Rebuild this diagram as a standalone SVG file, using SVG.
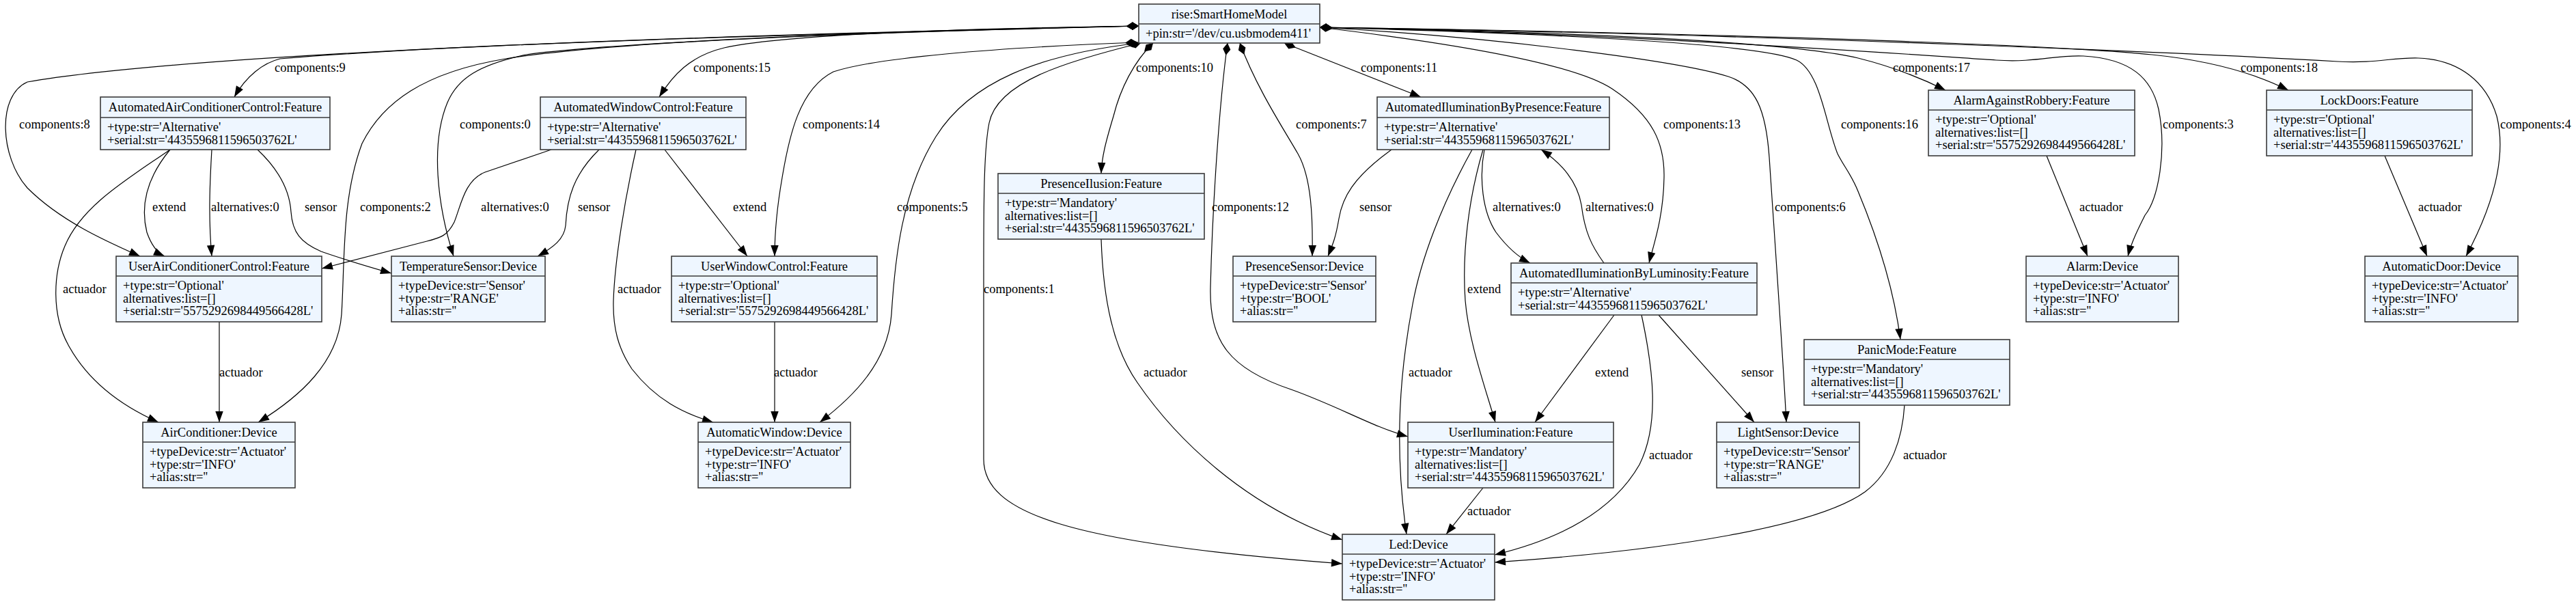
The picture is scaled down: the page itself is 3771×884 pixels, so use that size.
<svg xmlns="http://www.w3.org/2000/svg" width="3771" height="884" viewBox="0 0 3771 884">
<style>
text{font-family:"Liberation Serif","Times New Roman",serif;font-size:18.5px;fill:#000}
.t{text-anchor:middle}
.box{fill:#eef6ff;stroke:#3a3a3a;stroke-width:1.6}
.div{stroke:#3a3a3a;stroke-width:1.6}
.e{fill:none;stroke:#000;stroke-width:1.2}
.c{marker-start:url(#dia);marker-end:url(#arr)}
.a{marker-end:url(#arr)}
</style>
<defs>
<marker id="arr" markerUnits="userSpaceOnUse" markerWidth="16" markerHeight="12" refX="14" refY="5" orient="auto" viewBox="0 0 14 10" overflow="visible"><path d="M0,0 L14,5 L0,10 z" fill="#000"/></marker>
<marker id="dia" markerUnits="userSpaceOnUse" markerWidth="18" markerHeight="12" refX="0" refY="5" orient="auto" viewBox="0 0 16 10" overflow="visible"><path d="M0,5 L8,0 L16,5 L8,10 z" fill="#000"/></marker>
</defs>
<rect width="3771" height="884" fill="#fff"/>
<g id="connectors">
<path class="e c" d="M1667,38 C1200,50 700,62 410,86 C385,92 360,112 343,142"/>
<path class="e c" d="M1667,38 C1100,50 300,75 40,120 C-5,140 0,230 40,275 C90,325 160,355 205,375"/>
<path class="e c" d="M1667,38 C1300,45 900,60 740,86 C620,106 560,150 530,210 C500,290 505,380 500,460 C495,530 440,580 378,618"/>
<path class="e c" d="M1667,38 C1300,46 900,62 770,80 C700,95 670,115 655,150 C630,210 640,300 664,375"/>
<path class="e c" d="M1667,38 C1400,42 1150,50 1060,70 C1010,82 985,110 965,142"/>
<path class="e c" d="M1665,62 C1450,70 1280,85 1220,105 C1170,130 1155,200 1145,260 C1138,300 1134,340 1134,375"/>
<path class="e c" d="M1667,63 C1520,80 1420,120 1370,200 C1320,280 1310,380 1305,460 C1300,530 1250,580 1200,618"/>
<path class="e c" d="M1670,63 C1560,90 1460,120 1448,180 C1440,220 1440,300 1440,400 L1440,672 C1440,750 1560,795 1965,825"/>
<path class="e c" d="M1688,63 C1660,90 1640,130 1630,170 C1618,210 1613,230 1612,254"/>
<path class="e c" d="M1797,63 C1785,150 1775,300 1772,420 C1770,500 1800,540 1890,570 C1960,595 2010,625 2061,639"/>
<path class="e c" d="M1815,63 C1840,130 1880,190 1900,225 C1920,260 1922,320 1921,375"/>
<path class="e c" d="M1880,63 L2080,142"/>
<path class="e c" d="M1932,40 C2100,60 2300,90 2360,130 C2420,170 2437,210 2436,260 C2435,320 2420,360 2414,385"/>
<path class="e c" d="M1932,40 C2200,55 2460,90 2530,112 C2570,125 2585,160 2590,230 C2600,380 2610,520 2615,618"/>
<path class="e c" d="M1932,40 C2300,50 2580,65 2630,88 C2665,105 2672,180 2690,225 C2700,245 2710,255 2720,280 C2745,340 2772,420 2782,497"/>
<path class="e c" d="M1932,40 C2350,48 2620,62 2720,85 C2780,100 2820,118 2848,132"/>
<path class="e c" d="M1932,40 C2400,50 2800,80 2922,88 C2980,92 3010,80 3050,82 C3120,86 3150,115 3160,160 C3172,220 3160,290 3140,315 C3130,335 3120,355 3115,375"/>
<path class="e c" d="M1932,40 C2500,48 3000,65 3150,80 C3250,90 3310,112 3350,132"/>
<path class="e c" d="M1932,40 C2600,50 3250,80 3422,90 C3480,93 3500,84 3540,85 C3600,87 3640,120 3655,170 C3670,230 3650,300 3610,375"/>
<path class="e a" d="M249,219 C215,260 205,300 215,340 C222,360 230,370 241,375"/>
<path class="e a" d="M310,219 C307,270 305,320 310,375"/>
<path class="e a" d="M377,219 C410,250 424,280 426,310 C428,340 440,355 470,368 C510,382 545,392 573,400"/>
<path class="e a" d="M249,219 C190,260 120,300 95,360 C78,400 75,460 100,505 C130,560 180,595 232,618"/>
<path class="e a" d="M321,471 L321,618"/>
<path class="e a" d="M807,219 L710,252 C680,264 675,300 665,325 C655,345 645,348 625,353 L471,393"/>
<path class="e a" d="M877,219 C840,255 830,290 828,330 C826,350 810,362 787,375"/>
<path class="e a" d="M931,219 C915,290 900,380 898,440 C897,480 905,510 925,540 C960,585 1000,605 1044,618"/>
<path class="e a" d="M973,219 L1094,375"/>
<path class="e a" d="M1134,471 L1134,618"/>
<path class="e a" d="M1612,350 C1615,440 1630,510 1665,560 C1720,640 1820,740 1965,790"/>
<path class="e a" d="M2037,219 C1980,260 1965,290 1960,320 C1955,350 1950,360 1944,375"/>
<path class="e a" d="M2155,219 C2110,300 2080,380 2068,445 C2050,540 2040,650 2059,782"/>
<path class="e a" d="M2171,219 C2150,290 2140,370 2145,440 C2150,500 2175,570 2189,618"/>
<path class="e a" d="M2173,219 C2165,260 2170,310 2190,340 C2205,360 2220,375 2240,385"/>
<path class="e a" d="M2348,385 C2330,360 2320,340 2315,300 C2308,260 2280,235 2256,219"/>
<path class="e a" d="M2363,461 L2247,618"/>
<path class="e a" d="M2403,461 C2420,540 2430,620 2400,680 C2360,750 2280,790 2188,812"/>
<path class="e a" d="M2428,461 L2568,618"/>
<path class="e a" d="M2171,714 L2117,782"/>
<path class="e a" d="M2996,228 L3056,375"/>
<path class="e a" d="M3491,228 L3553,375"/>
<path class="e a" d="M2788,593 C2785,640 2770,690 2730,720 C2660,770 2450,805 2188,823"/>
<text x="402" y="105">components:9</text>
<text x="28" y="188">components:8</text>
<text x="223" y="309">extend</text>
<text x="309" y="309">alternatives:0</text>
<text x="446" y="309">sensor</text>
<text x="527" y="309">components:2</text>
<text x="92" y="429">actuador</text>
<text x="673" y="188">components:0</text>
<text x="1015" y="105">components:15</text>
<text x="704" y="309">alternatives:0</text>
<text x="846" y="309">sensor</text>
<text x="1073" y="309">extend</text>
<text x="904" y="429">actuador</text>
<text x="1175" y="188">components:14</text>
<text x="1663" y="105">components:10</text>
<text x="1313" y="309">components:5</text>
<text x="1774" y="309">components:12</text>
<text x="1440" y="429">components:1</text>
<text x="1992" y="105">components:11</text>
<text x="1897" y="188">components:7</text>
<text x="1990" y="309">sensor</text>
<text x="2185" y="309">alternatives:0</text>
<text x="2321" y="309">alternatives:0</text>
<text x="2148" y="429">extend</text>
<text x="2435" y="188">components:13</text>
<text x="2771" y="105">components:17</text>
<text x="2695" y="188">components:16</text>
<text x="2598" y="309">components:6</text>
<text x="3044" y="309">actuador</text>
<text x="3280" y="105">components:18</text>
<text x="3166" y="188">components:3</text>
<text x="3660" y="188">components:4</text>
<text x="3540" y="309">actuador</text>
<text x="321" y="551">actuador</text>
<text x="1133" y="551">actuador</text>
<text x="1674" y="551">actuador</text>
<text x="2062" y="551">actuador</text>
<text x="2335" y="551">extend</text>
<text x="2414" y="672">actuador</text>
<text x="2148" y="754">actuador</text>
<text x="2549" y="551">sensor</text>
<text x="2786" y="672">actuador</text>
</g>
<g id="SmartHomeModel"><rect class="box" x="1667" y="6" width="265" height="57"/><line class="div" x1="1667" y1="35" x2="1932" y2="35"/><text class="t" x="1799.5" y="27">rise:SmartHomeModel</text><text x="1677" y="55">+pin:str='/dev/cu.usbmodem411'</text></g>
<g id="AutomatedAirConditionerControl"><rect class="box" x="147" y="142" width="336" height="77"/><line class="div" x1="147" y1="172" x2="483" y2="172"/><text class="t" x="315" y="163">AutomatedAirConditionerControl:Feature</text><text x="157" y="192">+type:str='Alternative'</text><text x="157" y="210.7">+serial:str='4435596811596503762L'</text></g>
<g id="AutomatedWindowControl"><rect class="box" x="791" y="142" width="301" height="77"/><line class="div" x1="791" y1="172" x2="1092" y2="172"/><text class="t" x="941.5" y="163">AutomatedWindowControl:Feature</text><text x="801" y="192">+type:str='Alternative'</text><text x="801" y="210.7">+serial:str='4435596811596503762L'</text></g>
<g id="AutomatedIluminationByPresence"><rect class="box" x="2016" y="142" width="340" height="77"/><line class="div" x1="2016" y1="172" x2="2356" y2="172"/><text class="t" x="2186" y="163">AutomatedIluminationByPresence:Feature</text><text x="2026" y="192">+type:str='Alternative'</text><text x="2026" y="210.7">+serial:str='4435596811596503762L'</text></g>
<g id="AutomatedIluminationByLuminosity"><rect class="box" x="2212" y="385" width="360" height="76"/><line class="div" x1="2212" y1="414" x2="2572" y2="414"/><text class="t" x="2392" y="406">AutomatedIluminationByLuminosity:Feature</text><text x="2222" y="434">+type:str='Alternative'</text><text x="2222" y="452.7">+serial:str='4435596811596503762L'</text></g>
<g id="UserAirConditionerControl"><rect class="box" x="170" y="375" width="301" height="96"/><line class="div" x1="170" y1="404" x2="471" y2="404"/><text class="t" x="320.5" y="396">UserAirConditionerControl:Feature</text><text x="180" y="424">+type:str='Optional'</text><text x="180" y="442.7">alternatives:list=[]</text><text x="180" y="461.3">+serial:str='5575292698449566428L'</text></g>
<g id="TemperatureSensor"><rect class="box" x="573" y="375" width="225" height="96"/><line class="div" x1="573" y1="404" x2="798" y2="404"/><text class="t" x="685.5" y="396">TemperatureSensor:Device</text><text x="583" y="424">+typeDevice:str='Sensor'</text><text x="583" y="442.7">+type:str='RANGE'</text><text x="583" y="461.3">+alias:str=''</text></g>
<g id="UserWindowControl"><rect class="box" x="983" y="375" width="301" height="96"/><line class="div" x1="983" y1="404" x2="1284" y2="404"/><text class="t" x="1133.5" y="396">UserWindowControl:Feature</text><text x="993" y="424">+type:str='Optional'</text><text x="993" y="442.7">alternatives:list=[]</text><text x="993" y="461.3">+serial:str='5575292698449566428L'</text></g>
<g id="PresenceIlusion"><rect class="box" x="1461" y="254" width="302" height="96"/><line class="div" x1="1461" y1="283" x2="1763" y2="283"/><text class="t" x="1612" y="275">PresenceIlusion:Feature</text><text x="1471" y="303">+type:str='Mandatory'</text><text x="1471" y="321.7">alternatives:list=[]</text><text x="1471" y="340.3">+serial:str='4435596811596503762L'</text></g>
<g id="PresenceSensor"><rect class="box" x="1805" y="375" width="209" height="96"/><line class="div" x1="1805" y1="404" x2="2014" y2="404"/><text class="t" x="1909.5" y="396">PresenceSensor:Device</text><text x="1815" y="424">+typeDevice:str='Sensor'</text><text x="1815" y="442.7">+type:str='BOOL'</text><text x="1815" y="461.3">+alias:str=''</text></g>
<g id="AlarmAgainstRobbery"><rect class="box" x="2823" y="132" width="302" height="96"/><line class="div" x1="2823" y1="161" x2="3125" y2="161"/><text class="t" x="2974" y="153">AlarmAgainstRobbery:Feature</text><text x="2833" y="181">+type:str='Optional'</text><text x="2833" y="199.7">alternatives:list=[]</text><text x="2833" y="218.3">+serial:str='5575292698449566428L'</text></g>
<g id="LockDoors"><rect class="box" x="3318" y="132" width="301" height="96"/><line class="div" x1="3318" y1="161" x2="3619" y2="161"/><text class="t" x="3468.5" y="153">LockDoors:Feature</text><text x="3328" y="181">+type:str='Optional'</text><text x="3328" y="199.7">alternatives:list=[]</text><text x="3328" y="218.3">+serial:str='4435596811596503762L'</text></g>
<g id="Alarm"><rect class="box" x="2966" y="375" width="223" height="96"/><line class="div" x1="2966" y1="404" x2="3189" y2="404"/><text class="t" x="3077.5" y="396">Alarm:Device</text><text x="2976" y="424">+typeDevice:str='Actuator'</text><text x="2976" y="442.7">+type:str='INFO'</text><text x="2976" y="461.3">+alias:str=''</text></g>
<g id="AutomaticDoor"><rect class="box" x="3462" y="375" width="224" height="96"/><line class="div" x1="3462" y1="404" x2="3686" y2="404"/><text class="t" x="3574" y="396">AutomaticDoor:Device</text><text x="3472" y="424">+typeDevice:str='Actuator'</text><text x="3472" y="442.7">+type:str='INFO'</text><text x="3472" y="461.3">+alias:str=''</text></g>
<g id="AirConditioner"><rect class="box" x="209" y="618" width="223" height="96"/><line class="div" x1="209" y1="647" x2="432" y2="647"/><text class="t" x="320.5" y="639">AirConditioner:Device</text><text x="219" y="667">+typeDevice:str='Actuator'</text><text x="219" y="685.7">+type:str='INFO'</text><text x="219" y="704.3">+alias:str=''</text></g>
<g id="AutomaticWindow"><rect class="box" x="1022" y="618" width="223" height="96"/><line class="div" x1="1022" y1="647" x2="1245" y2="647"/><text class="t" x="1133.5" y="639">AutomaticWindow:Device</text><text x="1032" y="667">+typeDevice:str='Actuator'</text><text x="1032" y="685.7">+type:str='INFO'</text><text x="1032" y="704.3">+alias:str=''</text></g>
<g id="UserIlumination"><rect class="box" x="2061" y="618" width="301" height="96"/><line class="div" x1="2061" y1="647" x2="2362" y2="647"/><text class="t" x="2211.5" y="639">UserIlumination:Feature</text><text x="2071" y="667">+type:str='Mandatory'</text><text x="2071" y="685.7">alternatives:list=[]</text><text x="2071" y="704.3">+serial:str='4435596811596503762L'</text></g>
<g id="LightSensor"><rect class="box" x="2513" y="618" width="209" height="96"/><line class="div" x1="2513" y1="647" x2="2722" y2="647"/><text class="t" x="2617.5" y="639">LightSensor:Device</text><text x="2523" y="667">+typeDevice:str='Sensor'</text><text x="2523" y="685.7">+type:str='RANGE'</text><text x="2523" y="704.3">+alias:str=''</text></g>
<g id="PanicMode"><rect class="box" x="2641" y="497" width="301" height="96"/><line class="div" x1="2641" y1="526" x2="2942" y2="526"/><text class="t" x="2791.5" y="518">PanicMode:Feature</text><text x="2651" y="546">+type:str='Mandatory'</text><text x="2651" y="564.7">alternatives:list=[]</text><text x="2651" y="583.3">+serial:str='4435596811596503762L'</text></g>
<g id="Led"><rect class="box" x="1965" y="782" width="223" height="96"/><line class="div" x1="1965" y1="811" x2="2188" y2="811"/><text class="t" x="2076.5" y="803">Led:Device</text><text x="1975" y="831">+typeDevice:str='Actuator'</text><text x="1975" y="849.7">+type:str='INFO'</text><text x="1975" y="868.3">+alias:str=''</text></g>
</svg>
